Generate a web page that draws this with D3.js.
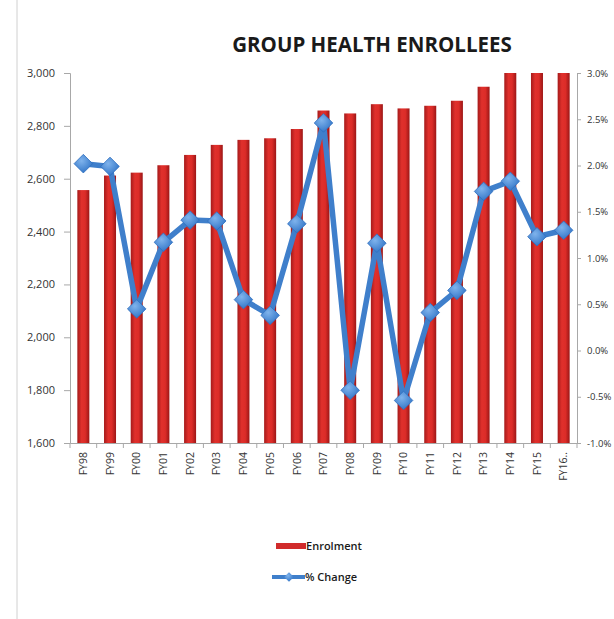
<!DOCTYPE html>
<html><head><meta charset="utf-8">
<script src="https://cdn.jsdelivr.net/npm/d3@7"></script>
<style>html,body{margin:0;padding:0;background:#fff;overflow:hidden}</style>
</head><body>
<svg id="c" width="614" height="619"></svg>
<script>
const categories = ["FY98","FY99","FY00","FY01","FY02","FY03","FY04","FY05","FY06","FY07","FY08","FY09","FY10","FY11","FY12","FY13","FY14","FY15","FY16.."];
const enrolment = [2557,2612,2623,2651,2690,2728,2747,2753,2788,2858,2847,2882,2866,2876,2895,2948,3000,3000,3000];
const pctChange = [2.02,1.99,0.45,1.17,1.41,1.40,0.55,0.38,1.37,2.46,-0.43,1.16,-0.54,0.41,0.65,1.72,1.83,1.23,1.30];
const leftTicks = [1600,1800,2000,2200,2400,2600,2800,3000];
const rightTicks = [-1.0,-0.5,0,0.5,1.0,1.5,2.0,2.5,3.0];
const title = "GROUP HEALTH ENROLLEES";
const legendLabels = ["Enrolment","% Change"];

const svg = d3.select("#c");
const font = "'Open Sans', sans-serif";
const m = {l:70, r:577, t:73, b:443};

const x = d3.scaleBand().domain(categories).range([m.l, m.r]).paddingInner(0.55).paddingOuter(0.275);
const yL = d3.scaleLinear().domain([1600,3000]).range([m.b, m.t]);
const yR = d3.scaleLinear().domain([-1.0,3.0]).range([m.b, m.t]);

const defs = svg.append("defs");
const g = defs.append("linearGradient").attr("id","barg").attr("x1","0").attr("x2","1").attr("y1","0").attr("y2","0");
g.append("stop").attr("offset","0%").attr("stop-color","#a51a1a");
g.append("stop").attr("offset","35%").attr("stop-color","#e0302c");
g.append("stop").attr("offset","65%").attr("stop-color","#dc2c28");
g.append("stop").attr("offset","100%").attr("stop-color","#9c1616");
const dg = defs.append("radialGradient").attr("id","dia").attr("cx","40%").attr("cy","35%").attr("r","70%");
dg.append("stop").attr("offset","0%").attr("stop-color","#7fb3ec");
dg.append("stop").attr("offset","100%").attr("stop-color","#2f73c6");

// chart border line on left
svg.append("line").attr("x1",17).attr("x2",17).attr("y1",0).attr("y2",619).attr("stroke","#d0d0d0").attr("stroke-width",1);

// title
svg.append("text").attr("x",372).attr("y",52).attr("text-anchor","middle")
  .attr("font-family",font).attr("font-weight","bold").attr("font-size",20.5).attr("fill","#1a1a1a").text(title);

// left axis
const la = svg.append("g").attr("transform",`translate(${m.l},0)`)
  .call(d3.axisLeft(yL).tickValues(leftTicks).tickFormat(d3.format(",")).tickSize(6).tickPadding(9));
la.selectAll("path,line").attr("stroke","#a8a8a8");
la.selectAll("text").attr("font-family",font).attr("font-size",11).attr("fill","#333");

// right axis
const ra = svg.append("g").attr("transform",`translate(${m.r},0)`)
  .call(d3.axisRight(yR).tickValues(rightTicks).tickFormat(d=>d.toFixed(1)+"%").tickSize(4).tickPadding(6));
ra.selectAll("path,line").attr("stroke","#a8a8a8");
ra.selectAll("text").attr("font-family",font).attr("font-size",9.5).attr("fill","#333");

// bars
svg.append("g").selectAll("rect").data(categories).join("rect")
  .attr("x",d=>x(d)).attr("width",x.bandwidth())
  .attr("y",(d,i)=>yL(enrolment[i])).attr("height",(d,i)=>m.b - yL(enrolment[i]))
  .attr("fill","url(#barg)");

// bottom axis
const step = x.step();
const ba = svg.append("g").attr("transform",`translate(0,${m.b})`)
  .call(d3.axisBottom(x).tickSize(0).tickPadding(6));
ba.select("path").attr("stroke","#a8a8a8");
ba.selectAll("text").attr("font-family",font).attr("font-size",10.5).attr("fill","#333")
  .attr("transform","rotate(-90)").attr("text-anchor","end").attr("x",-9).attr("y",0).attr("dy","0.35em");
// category separator ticks
svg.append("g").selectAll("line").data(d3.range(categories.length+1)).join("line")
  .attr("x1",i=>m.l+i*step).attr("x2",i=>m.l+i*step).attr("y1",m.b).attr("y2",m.b+5).attr("stroke","#a8a8a8");

// line
const cx = d=>x(d)+x.bandwidth()/2;
const line = d3.line().x((d,i)=>cx(categories[i])).y(d=>yR(d));
svg.append("path").datum(pctChange).attr("d",line).attr("fill","none")
  .attr("stroke","#3f7fcb").attr("stroke-width",5.5).attr("stroke-linejoin","round");
const diamond = d3.symbol().type(d3.symbolDiamond2).size(220);
svg.append("g").selectAll("path").data(pctChange).join("path")
  .attr("transform",(d,i)=>`translate(${cx(categories[i])},${yR(d)})`)
  .attr("d",diamond).attr("fill","url(#dia)").attr("stroke","#2f6fbf").attr("stroke-width",0.8);

// legend
const lg = svg.append("g");
lg.append("rect").attr("x",276).attr("y",543).attr("width",30).attr("height",6).attr("fill","#d12b2b");
lg.append("text").attr("x",306).attr("y",550).attr("font-family",font).attr("font-size",11).attr("font-weight","600").attr("fill","#1a1a1a").text(legendLabels[0]);
lg.append("line").attr("x1",272).attr("x2",305).attr("y1",577).attr("y2",577).attr("stroke","#3f7fcb").attr("stroke-width",4);
lg.append("path").attr("transform","translate(289,577)").attr("d",d3.symbol().type(d3.symbolDiamond2).size(60)).attr("fill","url(#dia)");
lg.append("text").attr("x",305).attr("y",581).attr("font-family",font).attr("font-size",11).attr("font-weight","600").attr("fill","#1a1a1a").text(legendLabels[1]);
</script>
</body></html>
